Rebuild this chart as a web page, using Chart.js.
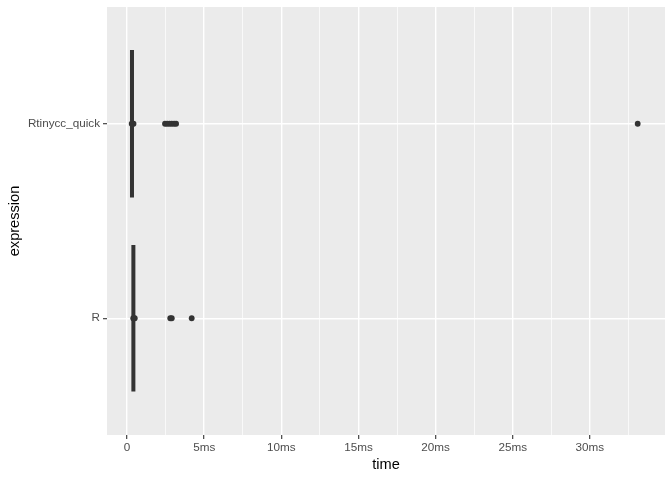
<!DOCTYPE html>
<html>
<head>
<meta charset="utf-8">
<script src="https://cdn.jsdelivr.net/npm/chart.js@4"></script>
<style>
  html, body { margin: 0; padding: 0; background: #fff; }
  #wrap { width: 672px; height: 480px; }
</style>
</head>
<body>
<div id="wrap"><canvas id="chart" width="672" height="480"></canvas></div>
<script>
// categories, bottom to top
const expressions = ['R', 'Rtinycc_quick'];

// timings (ms) per expression
const rTimes = [0.40, 0.45, 0.50, 2.80, 2.90, 4.19];
const rtinyccTimes = [0.30, 0.36, 0.42, 2.46, 2.60, 2.75, 2.90, 3.05, 3.18, 33.1];

// violin (collapsed to a thin bar): centre time and vertical extent
const violinCentre = [0.41, 0.32];
const violinHalfHeight = [0.377, 0.379];

const xTicks = [0, 2.5, 5, 7.5, 10, 12.5, 15, 17.5, 20, 22.5, 25, 27.5, 30, 32.5];
const xTickLabels = { 0: '0', 5: '5ms', 10: '10ms', 15: '15ms', 20: '20ms', 25: '25ms', 30: '30ms' };

const INK = '#333333';
const tickFont = { family: "'Liberation Sans', Arial, sans-serif", size: 11.7 };
const titleFont = { family: "'Liberation Sans', Arial, sans-serif", size: 14.6 };

const isMajor = v => Math.abs(v % 5) < 1e-9;

// panel background
const panelBg = {
    id: 'panelBg',
    beforeDraw(chart) {
        const { ctx, chartArea: a } = chart;
        ctx.save();
        ctx.fillStyle = '#EBEBEB';
        ctx.fillRect(a.left, a.top, a.right - a.left, a.bottom - a.top);
        ctx.restore();
    }
};

const violinSets = expressions.map((name, i) => ({
    label: name + ' violin',
    data: [
        { x: violinCentre[i], y: i + 1 - violinHalfHeight[i] },
        { x: violinCentre[i], y: i + 1 + violinHalfHeight[i] }
    ],
    showLine: true,
    borderColor: INK,
    borderWidth: 4,
    borderCapStyle: 'butt',
    pointRadius: 0
}));

const pointSets = [rTimes, rtinyccTimes].map((times, i) => ({
    label: expressions[i],
    data: times.map(t => ({ x: t, y: i + 1 })),
    showLine: false,
    pointRadius: 2.9,
    pointBackgroundColor: INK,
    pointBorderWidth: 0
}));

new Chart(document.getElementById('chart'), {
    type: 'scatter',
    data: { datasets: [...violinSets, ...pointSets] },
    plugins: [panelBg],
    options: {
        responsive: false,
        animation: false,
        layout: { padding: { left: 0, top: 7, right: 7, bottom: 0 } },
        plugins: {
            legend: { display: false },
            tooltip: { enabled: false }
        },
        scales: {
            x: {
                type: 'linear',
                min: -1.3,
                max: 34.87,
                afterBuildTicks: axis => { axis.ticks = xTicks.map(v => ({ value: v })); },
                afterFit: axis => {
                    axis.height = 45;
                    axis.paddingLeft = 0;
                    axis.paddingRight = 0;
                },
                border: { display: false },
                grid: {
                    color: '#FFFFFF',
                    lineWidth: ctx => isMajor(ctx.tick.value) ? 1.4 : 0.7,
                    tickColor: ctx => isMajor(ctx.tick.value) ? INK : 'rgba(0,0,0,0)',
                    tickWidth: 1.1,
                    tickLength: 4
                },
                ticks: {
                    autoSkip: false,
                    maxRotation: 0,
                    padding: 2,
                    color: '#4D4D4D',
                    font: tickFont,
                    callback: v => xTickLabels[v] || ''
                },
                title: {
                    display: true,
                    text: 'time',
                    color: '#000000',
                    font: titleFont,
                    padding: { top: 2, bottom: 6 }
                }
            },
            y: {
                type: 'linear',
                min: 0.4,
                max: 2.6,
                afterBuildTicks: axis => { axis.ticks = expressions.map((_, i) => ({ value: i + 1 })); },
                afterFit: axis => {
                    axis.width = 107;
                    axis.paddingTop = 0;
                    axis.paddingBottom = 0;
                },
                border: { display: false },
                grid: {
                    color: '#FFFFFF',
                    lineWidth: 1.4,
                    tickColor: INK,
                    tickWidth: 1.1,
                    tickLength: 4
                },
                ticks: {
                    padding: 3,
                    color: '#4D4D4D',
                    font: tickFont,
                    callback: v => expressions[v - 1] || ''
                },
                title: {
                    display: true,
                    text: 'expression',
                    color: '#000000',
                    font: titleFont,
                    padding: { top: 6, bottom: 2 }
                }
            }
        }
    }
});
</script>
</body>
</html>
